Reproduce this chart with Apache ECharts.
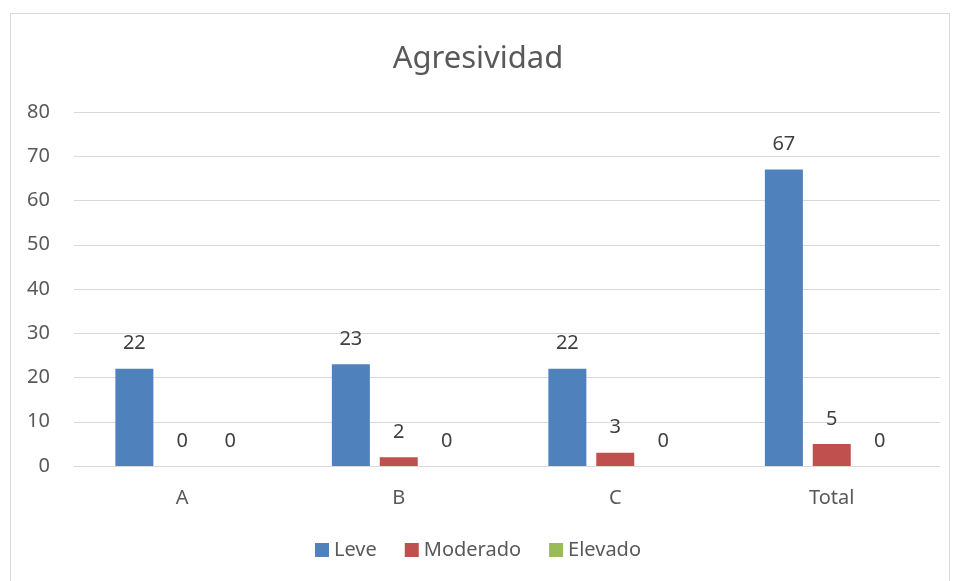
<!DOCTYPE html>
<html>
<head>
<meta charset="utf-8">
<script src="https://cdn.jsdelivr.net/npm/echarts@6/dist/echarts.min.js"></script>
<style>
  html, body { margin: 0; padding: 0; background: #fff; }
  #chart { width: 956px; height: 581px; }
</style>
</head>
<body>
<div id="chart"></div>
<script>
// datos de la tabla
var categorias = ['A', 'B', 'C', 'Total'];
var leve = [22, 23, 22, 67];
var moderado = [0, 2, 3, 5];
var elevado = [0, 0, 0, 0];
var ticksY = [0, 10, 20, 30, 40, 50, 60, 70, 80];

var fuente = 'Noto Sans';
var gris = '#595959';

var etiqueta = {
  show: true,
  position: 'top',
  distance: 15,
  color: '#404040',
  fontSize: 20,
  fontFamily: fuente
};

var myChart = echarts.init(document.getElementById('chart'));

myChart.setOption({
  animation: false,
  color: ['#4F81BD', '#C0504D', '#9BBB59'],
  graphic: [{
    type: 'rect',
    shape: { x: 10.5, y: 13.5, width: 939, height: 600 },
    style: { fill: 'none', stroke: '#d9d9d9', lineWidth: 1 },
    silent: true
  }],
  title: {
    text: 'Agresividad',
    left: 'center',
    top: 39,
    textStyle: { fontSize: 31, fontWeight: 'normal', color: gris, fontFamily: fuente }
  },
  legend: {
    bottom: 16,
    left: 'center',
    itemWidth: 14,
    itemHeight: 14,
    itemGap: 28,
    icon: 'rect',
    textStyle: { fontSize: 20, color: gris, fontFamily: fuente }
  },
  grid: { left: 74, right: 16, top: 112, bottom: 115 },
  xAxis: {
    type: 'category',
    data: categorias,
    axisTick: { show: false },
    axisLine: { lineStyle: { color: '#d9d9d9', width: 1 } },
    axisLabel: { color: gris, fontSize: 20, fontFamily: fuente, margin: 22 }
  },
  yAxis: {
    type: 'value',
    min: ticksY[0],
    max: ticksY[ticksY.length - 1],
    interval: 10,
    axisLine: { show: false },
    axisTick: { show: false },
    splitLine: { lineStyle: { color: '#d9d9d9', width: 1 } },
    axisLabel: { color: gris, fontSize: 20, fontFamily: fuente, margin: 24 }
  },
  series: [
    { name: 'Leve', type: 'bar', data: leve, barWidth: 38, barGap: '26%', label: etiqueta },
    { name: 'Moderado', type: 'bar', data: moderado, barWidth: 38, barGap: '26%', label: etiqueta },
    { name: 'Elevado', type: 'bar', data: elevado, barWidth: 38, barGap: '26%', label: etiqueta }
  ]
});

window.onresize = function () {
  myChart.resize();
};
</script>
</body>
</html>
